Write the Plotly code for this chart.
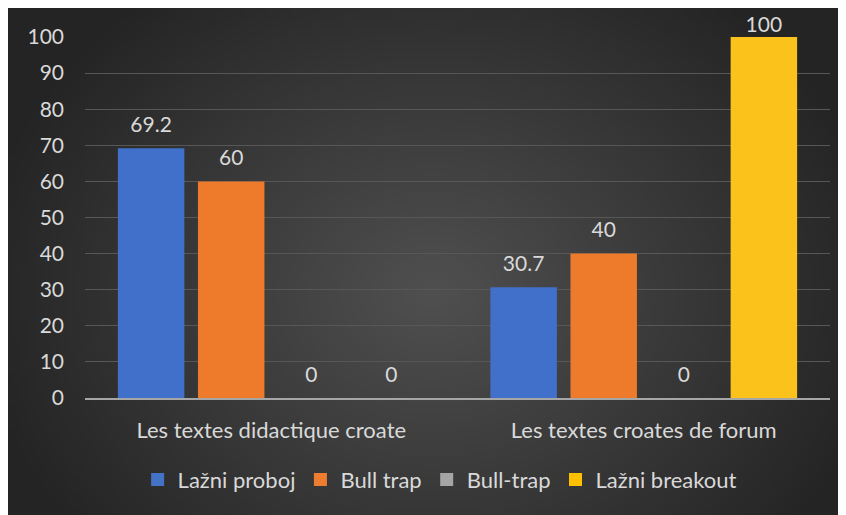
import base64, struct, zlib
import numpy as np
import plotly.graph_objects as go

categories = ["Les textes didactique croate", "Les textes croates de forum"]
series_names = ["Lažni proboj", "Bull trap", "Bull-trap", "Lažni breakout"]
series_values = [
    [69.2, 30.7],
    [60, 40],
    [0, 0],
    [0, 100],
]
series_colors = ["#4472c4", "#ed7d31", "#a5a5a5", "#ffc000"]
bar_colors = ["#4170cb", "#ee7a2c", "#a5a5a5", "#fcc21c"]
y_ticks = list(range(0, 101, 10))


def radial_png(w, h, inner, outer):
    yy, xx = np.mgrid[0:h, 0:w]
    cx, cy = w * 0.5, h * 0.55
    d = np.sqrt(((xx - cx) / (w * 0.55)) ** 2 + ((yy - cy) / (h * 0.75)) ** 2)
    d = np.clip(d, 0, 1)
    img = (inner + (outer - inner) * d).astype(np.uint8)
    raw = b"".join(b"\x00" + bytes(np.repeat(row, 3).tolist()) for row in img)

    def chunk(tag, data):
        c = struct.pack(">I", len(data)) + tag + data
        return c + struct.pack(">I", zlib.crc32(tag + data) & 0xFFFFFFFF)

    png = b"\x89PNG\r\n\x1a\n"
    png += chunk(b"IHDR", struct.pack(">IIBBBBB", w, h, 8, 2, 0, 0, 0))
    png += chunk(b"IDAT", zlib.compress(raw, 9))
    png += chunk(b"IEND", b"")
    return "data:image/png;base64," + base64.b64encode(png).decode()


# page body has an 8px margin, so figure coords = screen coords - 8
W, H = 846, 515
ml, mr, mt, mb = 77, 24, 29, 125
pw, ph = W - ml - mr, H - mt - mb

fig = go.Figure()
for i, (name, vals) in enumerate(zip(series_names, series_values)):
    fig.add_bar(
        x=categories, y=vals, name=name, offsetgroup=str(i),
        marker=dict(color=bar_colors[i], line=dict(width=0)),
        showlegend=False, hoverinfo="skip",
    )
    # legend entry with square symbol
    fig.add_scatter(
        x=[None], y=[None], mode="markers", name=name,
        marker=dict(symbol="square", size=13, color=series_colors[i]),
    )
    # data labels above bars (label at the axis top sits tight on the bar)
    fig.add_scatter(
        x=categories, y=vals, mode="markers+text", offsetgroup=str(i),
        text=[f"{v:g}" for v in vals], textposition="top center",
        marker=dict(size=[0 if v >= 95 else 16 for v in vals], opacity=0),
        showlegend=False, cliponaxis=False,
        textfont=dict(size=21, color="#d9d9d9"), hoverinfo="skip",
    )

fig.update_layout(
    width=W, height=H,
    margin=dict(l=ml, r=mr, t=mt, b=mb),
    paper_bgcolor="#2b2b2b", plot_bgcolor="rgba(0,0,0,0)",
    barmode="group", bargap=0.14, bargroupgap=0.17,
    scattermode="group", scattergap=0.14,
    font=dict(family="Lato, 'Open Sans', sans-serif", size=22, color="#d9d9d9"),
    legend=dict(orientation="h", x=0.476, xanchor="center", y=-0.168, yanchor="top",
                font=dict(size=22, color="#d9d9d9"), itemwidth=30,
                bgcolor="rgba(0,0,0,0)"),
    images=[dict(
        source=radial_png(210, 128, 80, 36), xref="paper", yref="paper",
        x=-ml / pw, y=(H - mb) / ph,
        sizex=W / pw, sizey=H / ph,
        sizing="stretch", layer="below", xanchor="left", yanchor="top",
    )],
)
fig.update_yaxes(
    range=[0, 100], tickvals=y_ticks, showgrid=True, gridcolor="#575757", gridwidth=1,
    zeroline=False, showline=False, ticks="", ticklabelstandoff=20,
    tickfont=dict(size=21, color="#d9d9d9"),
)
fig.update_xaxes(
    showline=True, linecolor="#a6a6a6", linewidth=2, ticks="",
    tickfont=dict(size=22, color="#d9d9d9"), ticklabelstandoff=12,
)

fig.write_html("out.html")
